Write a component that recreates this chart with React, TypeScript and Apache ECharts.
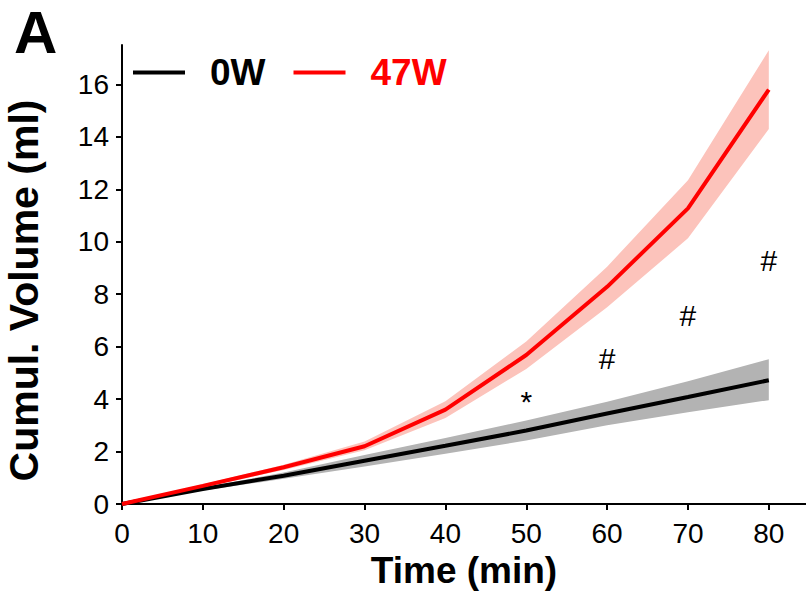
import React, { useEffect, useRef } from "react";
import * as echarts from "echarts";

const time = [0, 10, 20, 30, 40, 50, 60, 70, 80];
const mean0W = [0, 0.57, 1.08, 1.65, 2.22, 2.8, 3.45, 4.08, 4.72];
const upper0W = [0, 0.63, 1.2, 1.87, 2.52, 3.18, 3.9, 4.68, 5.52];
const lower0W = [0, 0.51, 0.96, 1.43, 1.92, 2.42, 3.0, 3.5, 3.96];
const mean47W = [0, 0.69, 1.4, 2.2, 3.6, 5.68, 8.28, 11.27, 15.8];
const upper47W = [0, 0.75, 1.5, 2.38, 3.92, 6.2, 9.05, 12.34, 17.3];
const lower47W = [0, 0.63, 1.3, 2.05, 3.28, 5.15, 7.5, 10.13, 14.3];
const xTicks = [0, 10, 20, 30, 40, 50, 60, 70, 80];
const yTicks = [0, 2, 4, 6, 8, 10, 12, 14, 16];
const sigX = [50, 60, 70, 80];
const sigY = [3.9, 5.56, 7.17, 9.3];
const sigMark = ["*", "#", "#", "#"];

const FONT = "Liberation Sans, Arial, sans-serif";

function bandSeries(name: string, lower: number[], upper: number[], color: string) {
  return {
    name,
    type: "custom",
    silent: true,
    data: [[time[0], lower[0], upper[0]]],
    renderItem: (_params: any, api: any) => {
      const pts: number[][] = [];
      for (let i = 0; i < time.length; i++) pts.push(api.coord([time[i], upper[i]]));
      for (let i = time.length - 1; i >= 0; i--) pts.push(api.coord([time[i], lower[i]]));
      return {
        type: "polygon",
        shape: { points: pts },
        style: { fill: color, stroke: "none" },
      };
    },
  };
}

export default function App() {
  const ref = useRef<HTMLDivElement>(null);
  useEffect(() => {
    if (!ref.current) return;
    const chart = echarts.init(ref.current, null, { renderer: "svg" });
    const pair = (arr: number[]) => time.map((t, i) => [t, arr[i]]);
    chart.setOption({
      animation: false,
      backgroundColor: "#ffffff",
      grid: { left: 122, right: 0, top: 45, bottom: 96, containLabel: false, outerBoundsMode: "none" },
      legend: {
        left: 133,
        top: 54,
        padding: 0,
        icon: "rect",
        itemWidth: 52,
        itemHeight: 4,
        itemGap: 28,
        data: [
          { name: "0W", textStyle: { color: "#000000" } },
          { name: "47W", textStyle: { color: "#ff0000" } },
        ],
        textStyle: {
          fontSize: 37,
          fontWeight: "bold",
          fontFamily: FONT,
          padding: [0, 0, 0, 20],
        },
      },
      graphic: [
        {
          type: "text",
          left: 14,
          top: 0,
          style: { text: "A", fontSize: 60, lineHeight: 64, fontWeight: "bold", fontFamily: FONT, fill: "#000" },
        },
      ],
      xAxis: {
        type: "value",
        min: 0,
        max: 84.6,
        name: "Time (min)",
        nameLocation: "middle",
        nameGap: 46,
        nameTextStyle: { fontSize: 37, fontWeight: "bold", fontFamily: FONT, color: "#000" },
        splitLine: { show: false },
        axisLine: { show: true, onZero: false, lineStyle: { color: "#000", width: 2 } },
        axisTick: { show: true, customValues: xTicks, length: 6, lineStyle: { color: "#000", width: 2 } },
        axisLabel: { customValues: xTicks, fontSize: 28, fontFamily: FONT, color: "#000", margin: 15 },
      },
      yAxis: {
        type: "value",
        min: 0,
        max: 17.5,
        name: "Cumul. Volume (ml)",
        nameLocation: "middle",
        nameGap: 78,
        nameTextStyle: { fontSize: 41, fontWeight: "bold", fontFamily: FONT, color: "#000", padding: [0, 32, 0, 0] },
        splitLine: { show: false },
        axisLine: { show: true, onZero: false, lineStyle: { color: "#000", width: 2 } },
        axisTick: { show: true, customValues: yTicks, length: 6, lineStyle: { color: "#000", width: 2 } },
        axisLabel: { customValues: yTicks, fontSize: 28, fontFamily: FONT, color: "#000", margin: 13 },
      },
      series: [
        bandSeries("band0W", lower0W, upper0W, "#b3b3b3"),
        bandSeries("band47W", lower47W, upper47W, "#fcc3bb"),
        {
          name: "0W",
          type: "line",
          data: pair(mean0W),
          showSymbol: false,
          itemStyle: { color: "#000000" },
          lineStyle: { color: "#000000", width: 4 },
        },
        {
          name: "47W",
          type: "line",
          data: pair(mean47W),
          showSymbol: false,
          itemStyle: { color: "#ff0000" },
          lineStyle: { color: "#ff0000", width: 4 },
        },
        {
          name: "sig",
          type: "custom",
          silent: true,
          data: sigX.map((x, i) => [x, sigY[i], i]),
          renderItem: (_params: any, api: any) => {
            const p = api.coord([api.value(0), api.value(1)]);
            const idx = api.value(2);
            return {
              type: "text",
              x: p[0],
              y: p[1],
              style: {
                text: sigMark[idx],
                fontSize: 30,
                fontFamily: FONT,
                fill: "#000",
                align: "center",
                verticalAlign: "middle",
              },
            };
          },
        },
      ],
    });
    return () => chart.dispose();
  }, []);
  return <div ref={ref} style={{ width: 806, height: 600, position: "absolute", left: 0, top: 0 }} />;
}
